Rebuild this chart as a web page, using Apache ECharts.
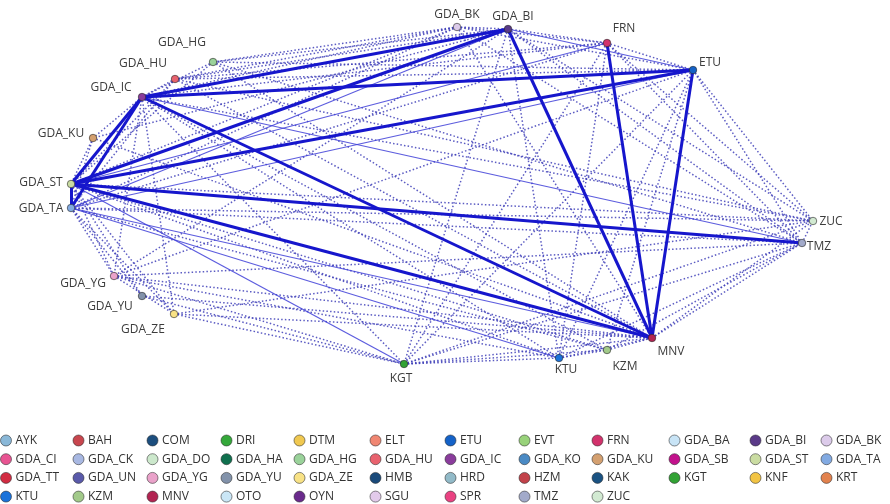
<!DOCTYPE html>
<html>
<head>
<meta charset="utf-8">
<script src="https://cdn.jsdelivr.net/npm/echarts@6/dist/echarts.min.js"></script>
<style>
html,body{margin:0;padding:0;background:#fff;}
#chart{width:890px;height:504px;}
</style>
</head>
<body>
<div id="chart"></div>
<script>
// ---- categories (legend) ----
const categories = ['AYK','BAH','COM','DRI','DTM','ELT','ETU','EVT','FRN','GDA_BA','GDA_BI','GDA_BK',
  'GDA_CI','GDA_CK','GDA_DO','GDA_HA','GDA_HG','GDA_HU','GDA_IC','GDA_KO','GDA_KU','GDA_SB','GDA_ST','GDA_TA',
  'GDA_TT','GDA_UN','GDA_YG','GDA_YU','GDA_ZE','HMB','HRD','HZM','KAK','KGT','KNF','KRT',
  'KTU','KZM','MNV','OTO','OYN','SGU','SPR','TMZ','ZUC'];
const categoryColors = ['#8ab8d8','#c8464e','#1c4e7e','#34a83a','#f0c850','#f08672','#1462c8','#98d27a','#d2326c','#c8e4f6','#5a3a88','#dccbea',
  '#e85492','#a8b8e2','#cce8cc','#10704e','#9ad29a','#e8626e','#8a3c9c','#4a8ac4','#d4a070','#c2128c','#cadca2','#82aae2',
  '#d22c42','#5a5aaa','#eaa2ca','#8292aa','#f8e286','#1a4a7a','#92bac8','#c2424a','#1a5282','#32a234','#f2c444','#e2824e',
  '#1a72da','#a2ca8a','#b22452','#cae6f6','#6a2a8c','#e2caea','#ea4282','#a2aaca','#d2ead2'];

// ---- nodes (positions are data values on hidden value axes) ----
const nodeNames = ['GDA_BK','GDA_BI','FRN','ETU','GDA_HG','GDA_HU','GDA_IC','GDA_KU','GDA_ST','GDA_TA',
  'GDA_YG','GDA_YU','GDA_ZE','KGT','KTU','KZM','MNV','TMZ','ZUC'];
const nodeX = [457,508,607,693,213,175,142,93,71,71,114,142,174,404,559,607,652,802,813];
const nodeY = [27,29,43,70,62,79,97,138,184,208,276,296,314,364,358,350,338,243,221];

// ---- edges ----
const strongEdges = [
  ['GDA_IC','GDA_BI'],['GDA_IC','ETU'],['GDA_IC','MNV'],['GDA_IC','GDA_ST'],['GDA_IC','GDA_TA'],
  ['GDA_ST','GDA_BI'],['GDA_ST','ETU'],['GDA_ST','TMZ'],['GDA_ST','MNV'],['GDA_ST','GDA_TA'],
  ['GDA_BI','MNV'],['FRN','MNV'],['ETU','MNV']
];
const thinEdges = [
  ['GDA_BI','ETU'],['FRN','GDA_ST'],['GDA_IC','TMZ'],['GDA_TA','MNV'],['GDA_TA','KTU'],
  ['GDA_ST','KGT'],['GDA_TA','ETU'],['GDA_TA','GDA_BI']
];
const dottedEdges = [
  ['GDA_BK','GDA_BI'],['GDA_BK','ETU'],['GDA_BK','FRN'],['GDA_BK','GDA_HG'],['GDA_BK','GDA_HU'],['GDA_BK','GDA_IC'],['GDA_BK','GDA_ST'],['GDA_BK','GDA_TA'],['GDA_BK','MNV'],['GDA_BK','TMZ'],
  ['GDA_BI','GDA_HG'],['GDA_BI','GDA_HU'],['GDA_BI','FRN'],['GDA_BI','KGT'],['GDA_BI','KTU'],['GDA_BI','TMZ'],['GDA_BI','ZUC'],['GDA_BI','GDA_YG'],['GDA_BI','GDA_KU'],
  ['FRN','ETU'],['FRN','GDA_IC'],['FRN','GDA_HU'],['FRN','TMZ'],['FRN','ZUC'],['FRN','KTU'],['FRN','KGT'],['FRN','GDA_TA'],
  ['ETU','GDA_HG'],['ETU','GDA_HU'],['ETU','TMZ'],['ETU','ZUC'],['ETU','KTU'],['ETU','KZM'],['ETU','KGT'],['ETU','GDA_YG'],
  ['GDA_HG','GDA_IC'],['GDA_HG','GDA_ST'],['GDA_HG','MNV'],['GDA_HG','TMZ'],
  ['GDA_HU','GDA_IC'],['GDA_HU','GDA_ST'],['GDA_HU','GDA_TA'],['GDA_HU','MNV'],['GDA_HU','ZUC'],
  ['GDA_IC','GDA_KU'],['GDA_IC','GDA_YG'],['GDA_IC','GDA_ZE'],['GDA_IC','KGT'],['GDA_IC','KTU'],['GDA_IC','ZUC'],['GDA_IC','KZM'],
  ['GDA_KU','GDA_ST'],['GDA_KU','GDA_TA'],['GDA_KU','MNV'],
  ['GDA_ST','GDA_YG'],['GDA_ST','GDA_YU'],['GDA_ST','GDA_ZE'],['GDA_ST','KTU'],['GDA_ST','KZM'],['GDA_ST','ZUC'],
  ['GDA_TA','GDA_YG'],['GDA_TA','GDA_YU'],['GDA_TA','GDA_ZE'],['GDA_TA','TMZ'],['GDA_TA','ZUC'],['GDA_TA','KZM'],
  ['GDA_YG','KGT'],['GDA_YG','KTU'],['GDA_YG','MNV'],['GDA_YG','TMZ'],['GDA_YG','GDA_ZE'],
  ['GDA_YU','KGT'],['GDA_YU','MNV'],
  ['GDA_ZE','KGT'],['GDA_ZE','MNV'],['GDA_ZE','ZUC'],
  ['KGT','KTU'],['KGT','KZM'],['KGT','MNV'],['KGT','TMZ'],['KGT','ZUC'],
  ['KTU','KZM'],['KTU','MNV'],['KTU','TMZ'],
  ['KZM','MNV'],['KZM','TMZ'],
  ['MNV','TMZ'],['MNV','ZUC'],['TMZ','ZUC']
];

// ---- styles (not data) ----
const labelOffset = {
  'GDA_BK':[0,-12],'GDA_BI':[5,-12],'FRN':[17,-14],'ETU':[17,-7],'GDA_HG':[-31,-19],'GDA_HU':[-32,-15],
  'GDA_IC':[-31,-9],'GDA_KU':[-32,-4],'GDA_ST':[-30,-1],'GDA_TA':[-30,1],'GDA_YG':[-31,8],'GDA_YU':[-32,11],
  'GDA_ZE':[-31,16],'KGT':[-3,15],'KTU':[7,12],'KZM':[18,17],'MNV':[19,14],'ZUC':[18,1],'TMZ':[17,4]
};
const legendLefts = [0,72.5,146.5,220.5,293.5,369.5,444.5,518.5,591.5,668.5,749.5,820.5];
const FONT = '"Open Sans", "DejaVu Sans", sans-serif';

const chart = echarts.init(document.getElementById('chart'));

const nodes = nodeNames.map((n, i) => ({
  name: n,
  value: [nodeX[i], nodeY[i]],
  category: categories.indexOf(n),
  label: { position: 'inside', offset: labelOffset[n] }
}));

const links = [];
dottedEdges.forEach(e => links.push({ source: e[0], target: e[1],
  lineStyle: { color: '#3f3fb8', width: 1.5, type: [1.5, 2.2], opacity: 0.85 } }));
thinEdges.forEach(e => links.push({ source: e[0], target: e[1],
  lineStyle: { color: '#4040d8', width: 1.2, type: 'solid', opacity: 0.85 } }));
strongEdges.forEach(e => links.push({ source: e[0], target: e[1],
  lineStyle: { color: '#1616cc', width: 3, type: 'solid', opacity: 1 } }));

const legends = legendLefts.map((left, c) => {
  const items = [];
  for (let r = 0; r * 12 + c < categories.length; r++) items.push(categories[r * 12 + c]);
  return {
    data: items, orient: 'vertical', left: left, top: 434.5, padding: 0,
    itemWidth: 11, itemHeight: 11, itemGap: 6.7, icon: 'circle',
    itemStyle: { borderColor: 'rgba(40,40,40,0.55)', borderWidth: 1 },
    textStyle: { fontFamily: FONT, fontSize: 12, color: '#333', padding: [0, 0, 0, -1] },
    selectedMode: false
  };
});

chart.setOption({
  animation: false,
  backgroundColor: '#ffffff',
  grid: { left: 0, right: 0, top: 0, bottom: 0 },
  xAxis: { type: 'value', min: 0, max: 890, show: false },
  yAxis: { type: 'value', min: 0, max: 504, inverse: true, show: false },
  legend: legends,
  series: [{
    type: 'graph',
    coordinateSystem: 'cartesian2d',
    layout: 'none',
    symbol: 'circle',
    symbolSize: 7.5,
    categories: categories.map((c, i) => ({
      name: c,
      itemStyle: { color: categoryColors[i], borderColor: 'rgba(40,40,40,0.6)', borderWidth: 1 }
    })),
    itemStyle: { borderColor: 'rgba(40,40,40,0.6)', borderWidth: 1 },
    label: { show: true, formatter: '{b}', fontFamily: FONT, fontSize: 12, color: '#3c3c3c' },
    emphasis: { disabled: true },
    data: nodes,
    links: links,
    z: 2
  }]
});
</script>
</body>
</html>
